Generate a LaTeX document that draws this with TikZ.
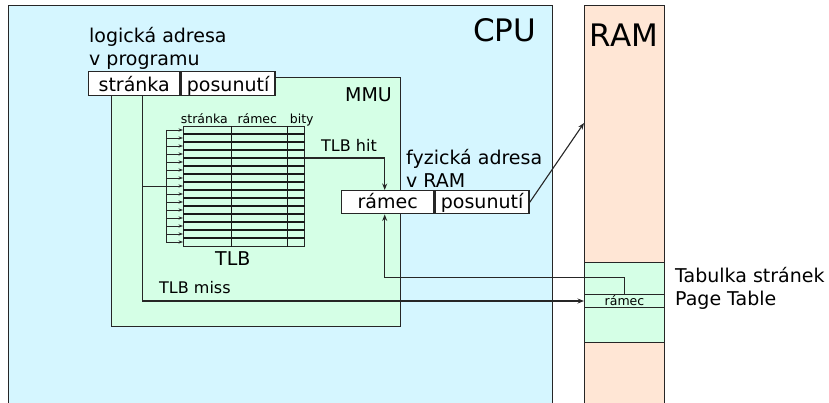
\documentclass[tikz,border=0pt]{standalone}
\usepackage{fontspec}
\setmainfont{DejaVu Sans}
\usetikzlibrary{arrows.meta,calc}
\definecolor{cpufill}{HTML}{D5F6FF}
\definecolor{mmufill}{HTML}{D5FFE6}
\definecolor{ramfill}{HTML}{FFE6D5}
\newcommand{\bigtext}{\fontsize{31}{36}\selectfont}
\newcommand{\maintext}{\fontsize{19}{23}\selectfont}
\newcommand{\midtext}{\fontsize{16}{19}\selectfont}
\newcommand{\smalltext}{\fontsize{12.5}{15}\selectfont}

\begin{document}
\begin{tikzpicture}[x=1pt,y=-1pt,>={Stealth[length=6.5pt,width=5pt]}]
  \tikzstyle{block}=[draw=black!85, line width=1.4pt, anchor=north west, inner sep=0pt]
  \tikzstyle{field}=[draw=black!85, line width=1.4pt, fill=white, anchor=north west, inner sep=0pt, font=\maintext]
  \tikzstyle{txt}=[inner sep=0pt, font=\maintext]
  \tikzstyle{link}=[->, draw=black!85, line width=1.1pt]
  \tikzstyle{thinlink}=[draw=black!85, line width=0.9pt]
  \tikzstyle{tlbline}=[draw=black!90, line width=1.3pt]

  \useasboundingbox (0,0) rectangle (829,403);

  % processor, memory and page table
  \node[block, fill=cpufill, minimum width=544pt, minimum height=420pt] (cpu) at (8,5) {};
  \node[block, fill=ramfill, minimum width=80pt, minimum height=420pt] (ram) at (584,5) {};
  \node[block, fill=mmufill, minimum width=80pt, minimum height=80pt] (ptab) at (584,262) {};
  \node[block, line width=1pt, minimum width=80pt, minimum height=13pt, font=\smalltext] (ptrow) at (584,294) {rámec};
  \node[block, fill=mmufill, minimum width=289pt, minimum height=249pt] (mmu) at (111,77) {};

  \node[txt, font=\bigtext, anchor=base west] (cputitle) at (473,42) {CPU};
  \node[txt, font=\bigtext, anchor=base] (ramtitle) at (624,46.5) {RAM};
  \node[txt, anchor=base west] (mmutitle) at (345,102) {MMU};
  \node[txt, anchor=north west, align=left] (lcap) at (89,27) {logická adresa\\v programu};
  \node[txt, anchor=north west, align=left] (pcap) at (406,149.5) {fyzická adresa\\v RAM};
  \node[txt, anchor=north west, align=left] (ptcap) at (675,267) {Tabulka stránek\\Page Table};

  % TLB
  \node[block, minimum width=121pt, minimum height=120pt] (tlb) at (183,126) {};
  \foreach \k in {1,...,14}
    \draw[tlbline] ($(tlb.north west)+(0,8*\k)$) -- ($(tlb.north east)+(0,8*\k)$);
  \draw[tlbline] ($(tlb.north west)+(48.7,0)$) -- ($(tlb.south west)+(48.7,0)$);
  \draw[tlbline] ($(tlb.north west)+(104.7,0)$) -- ($(tlb.south west)+(104.7,0)$);
  \node[txt, font=\smalltext, anchor=base west] (hpage) at (180.7,123.3) {stránka};
  \node[txt, font=\smalltext, anchor=base west] (hframe) at (237.3,123.3) {rámec};
  \node[txt, font=\smalltext, anchor=base west] (hbits) at (289.7,123.3) {bity};
  \node[txt, anchor=base west] (tlbname) at (215,265.7) {TLB};

  % addresses
  \node[field, minimum width=91pt, minimum height=24pt, text height=16pt, text depth=0pt] (lpage) at (88,71) {stránka};
  \node[field, minimum width=94pt, minimum height=24pt, text height=16pt, text depth=0pt] (loffs) at (lpage.north east) {posunutí};
  \node[field, minimum width=92pt, minimum height=23pt, text height=12pt, text depth=0pt] (pframe) at (341,190) {rámec};
  \node[field, minimum width=94pt, minimum height=23pt, text height=12pt, text depth=0pt] (poffs) at (pframe.north east) {posunutí};

  % connectors
  \coordinate (tap) at ([xshift=8.2pt]lpage.south);
  \coordinate (bus) at (166,0);
  \foreach \i in {1,...,15}
    \coordinate (row\i) at ($(tlb.north west)+(0,8*\i-4)$);
  \draw[link] (tap) |- (ptrow.west);
  \draw[thinlink] (tap |- row8) -- (bus |- row8);
  \draw[thinlink] (bus |- row1) -- (bus |- row15);
  \foreach \i in {1,...,15}
    \draw[thinlink, -{Stealth[length=4.5pt,width=3.2pt]}] (bus |- row\i) -- (row\i);
  \draw[link] ($(tlb.north east)+(0,32)$) -| ([xshift=-3pt]pframe.north);
  \draw[link] (poffs.east) -- ([yshift=-118pt]ram.north west);
  \draw[link] (ptrow.north) -- ++(0,-16.3) -| ([xshift=-3pt]pframe.south);
  \node[txt, font=\midtext, anchor=base west] (hit) at (321,151.5) {TLB hit};
  \node[txt, font=\midtext, anchor=base west] (miss) at (159,293) {TLB miss};
\end{tikzpicture}
\end{document}
